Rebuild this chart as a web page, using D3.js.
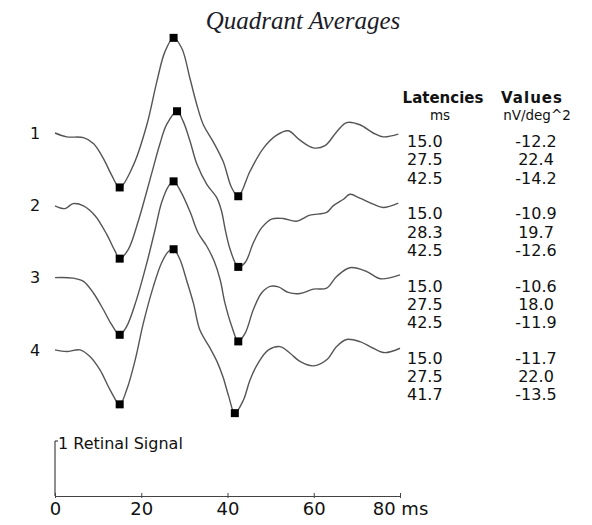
<!DOCTYPE html>
<html>
<head>
<meta charset="utf-8">
<script src="https://cdn.jsdelivr.net/npm/d3@7"></script>
<style>
    body { margin: 0; background: #fff; }
    text { font-family: "DejaVu Sans", Verdana, sans-serif; fill: #111; }
</style>
</head>
<body>
<div id="chart"></div>
<script>
// quadrant traces, [ms, signal] (1 = one retinal signal unit)
var trace1 = [[0,0.0],[2.7,-0.07],[6.6,-0.085],[8.9,-0.19],[11.2,-0.46],[13.1,-0.76],[15.0,-0.99],[18.2,-0.58],[21.3,0.15],[23.6,0.93],[25.5,1.48],[27.5,1.73],[29.4,1.54],[31.3,0.99],[32.9,0.51],[34.4,0.15],[36.7,-0.16],[39.0,-0.52],[41.0,-1.0],[42.5,-1.15],[45.2,-0.70],[48.3,-0.28],[51.4,-0.04],[54.1,0.04],[56.8,-0.13],[59.9,-0.27],[62.6,-0.23],[65.3,0.02],[67.6,0.19],[70.7,0.15],[73.8,0.0],[76.1,-0.07],[79.6,-0.02]];
var trace2 = [[0,-0.01],[2.3,-0.06],[4.2,0.03],[6.6,-0.01],[9.3,-0.19],[12.0,-0.53],[13.9,-0.83],[15.0,-0.97],[17.0,-0.80],[19.3,-0.29],[21.3,0.26],[22.8,0.69],[24.3,1.11],[25.9,1.47],[28.3,1.71],[29.7,1.53],[31.3,1.17],[32.9,0.75],[35.2,0.38],[37.5,0.14],[38.6,-0.10],[39.5,-0.45],[40.6,-0.80],[42.5,-1.12],[44.1,-1.04],[46.0,-0.68],[47.9,-0.41],[50.2,-0.25],[52.9,-0.24],[56.0,-0.29],[59.1,-0.18],[63.0,-0.13],[64.5,-0.01],[66.9,0.11],[68.4,0.20],[70.7,0.13],[73.8,0.02],[76.1,-0.04],[79.6,0.04]];
var trace3 = [[0,0.0],[4.2,-0.01],[6.6,-0.07],[8.9,-0.28],[11.2,-0.58],[13.1,-0.85],[15.0,-1.04],[16.6,-0.89],[18.9,-0.40],[21.3,0.27],[23.2,0.87],[24.7,1.36],[26.3,1.66],[27.5,1.75],[29.2,1.56],[31.3,1.20],[33.2,0.81],[35.2,0.57],[36.9,0.30],[38.3,-0.04],[39.4,-0.46],[41.0,-0.89],[42.5,-1.16],[44.1,-1.01],[46.0,-0.58],[47.9,-0.28],[49.9,-0.16],[51.8,-0.17],[54.1,-0.27],[56.8,-0.29],[59.9,-0.21],[63.0,-0.19],[65.3,0.02],[68.4,0.18],[72.3,0.11],[75.4,-0.02],[80,0.05]];
var trace4 = [[0,0.0],[2.7,-0.03],[5.8,0.0],[8.1,-0.12],[10.4,-0.36],[12.8,-0.73],[15.0,-0.99],[16.6,-0.73],[18.6,-0.18],[20.5,0.49],[22.8,1.15],[24.7,1.58],[26.3,1.79],[27.5,1.83],[29.0,1.64],[30.5,1.27],[32.1,0.85],[33.6,0.36],[35.9,0.04],[37.5,-0.20],[39.0,-0.50],[40.3,-0.85],[41.7,-1.15],[43.7,-0.91],[45.2,-0.55],[47.1,-0.24],[49.5,0.0],[52.2,0.06],[54.5,-0.06],[56.8,-0.21],[59.9,-0.29],[63.0,-0.18],[65.3,0.06],[67.6,0.19],[70.7,0.15],[73.8,0.03],[76.5,-0.05],[80,0.03]];

var quadrants = ["1", "2", "3", "4"];
var latencies = [[15.0, 27.5, 42.5], [15.0, 28.3, 42.5], [15.0, 27.5, 42.5], [15.0, 27.5, 41.7]];
var values = [[-12.2, 22.4, -14.2], [-10.9, 19.7, -12.6], [-10.6, 18.0, -11.9], [-11.7, 22.0, -13.5]];
var xTicks = [0, 20, 40, 60, 80];
var scaleBarValue = 1;

var traces = [trace1, trace2, trace3, trace4];

var width = 592, height = 525;
var traceTop = 133, traceGap = 72.3, axisY = 496;

var svg = d3.select("#chart").append("svg")
    .attr("width", width)
    .attr("height", height);

var x = d3.scaleLinear().domain([0, 80]).range([55, 400]);
var y = d3.scaleLinear().domain([0, 1]).range([0, -55]);

var line = d3.line()
    .x(function(d) { return x(d[0]); })
    .y(function(d) { return y(d[1]); })
    .curve(d3.curveCatmullRom.alpha(0.5));

svg.append("text")
    .attr("x", 303)
    .attr("y", 29)
    .attr("text-anchor", "middle")
    .style("font-family", "'Liberation Serif', serif")
    .style("font-style", "italic")
    .style("font-size", "25px")
    .style("fill", "#1c1c28")
    .text("Quadrant Averages");

// table headers
var head = svg.append("g").attr("class", "head");
head.append("text").attr("x", 443).attr("y", 103).attr("text-anchor", "middle")
    .style("font-size", "15px").style("font-weight", "bold").text("Latencies");
head.append("text").attr("x", 532).attr("y", 103).attr("text-anchor", "middle")
    .style("font-size", "15px").style("font-weight", "bold").style("letter-spacing", "1px").text("Values");
head.append("text").attr("x", 440).attr("y", 120).attr("text-anchor", "middle")
    .style("font-size", "13.5px").text("ms");
head.append("text").attr("x", 537).attr("y", 120).attr("text-anchor", "middle")
    .style("font-size", "13.5px").text("nV/deg^2");

var rows = svg.selectAll(".quad")
    .data(traces)
    .enter().append("g")
    .attr("class", "quad")
    .attr("transform", function(d, i) { return "translate(0," + (traceTop + i * traceGap) + ")"; });

rows.append("text")
    .attr("x", 35)
    .attr("y", 0)
    .attr("dy", "0.36em")
    .attr("text-anchor", "middle")
    .style("font-size", "16px")
    .text(function(d, i) { return quadrants[i]; });

rows.append("path")
    .attr("d", line)
    .style("fill", "none")
    .style("stroke", "#555")
    .style("stroke-width", 1.4);

rows.selectAll(".mark")
    .data(function(d, i) {
        return latencies[i].map(function(ms) {
            return d.find(function(q) { return q[0] === ms; });
        });
    })
    .enter().append("rect")
    .attr("class", "mark")
    .attr("x", function(d) { return x(d[0]) - 4; })
    .attr("y", function(d) { return y(d[1]) - 4; })
    .attr("width", 8)
    .attr("height", 8)
    .style("fill", "#000");

rows.selectAll(".lat")
    .data(function(d, i) { return latencies[i]; })
    .enter().append("text")
    .attr("class", "lat")
    .attr("x", 407)
    .attr("y", function(d, j) { return 14 + j * 18.3; })
    .style("font-size", "16px")
    .text(function(d) { return d.toFixed(1); });

rows.selectAll(".val")
    .data(function(d, i) { return values[i]; })
    .enter().append("text")
    .attr("class", "val")
    .attr("x", 536)
    .attr("y", function(d, j) { return 14 + j * 18.3; })
    .attr("text-anchor", "middle")
    .style("font-size", "16px")
    .text(function(d) { return d.toFixed(1); });

// time axis
var axis = svg.append("g")
    .attr("transform", "translate(0," + axisY + ")")
    .call(d3.axisBottom(x)
        .tickValues(xTicks)
        .tickSize(2)
        .tickSizeOuter(0)
        .tickPadding(4)
        .tickFormat(function(d) { return d === 80 ? "80 ms" : d; }));

axis.select(".domain").style("stroke", "#444").style("stroke-width", 1.2);
axis.selectAll(".tick line").attr("y1", -3).style("stroke", "#444");
axis.selectAll(".tick text")
    .style("font-family", "'DejaVu Sans', Verdana, sans-serif")
    .style("font-size", "18px")
    .style("fill", "#111");

// scale bar
var bar = svg.append("g").attr("transform", "translate(0," + axisY + ")");
bar.append("line")
    .attr("x1", x(0)).attr("x2", x(0))
    .attr("y1", 0).attr("y2", y(scaleBarValue))
    .style("stroke", "#444").style("stroke-width", 1.2);
bar.append("line")
    .attr("x1", x(0)).attr("x2", x(0) + 3)
    .attr("y1", y(scaleBarValue)).attr("y2", y(scaleBarValue))
    .style("stroke", "#444").style("stroke-width", 1.2);
bar.append("text")
    .attr("x", x(0) + 3)
    .attr("y", y(scaleBarValue) + 8)
    .style("font-size", "16px")
    .text(scaleBarValue + " Retinal Signal");
</script>
</body>
</html>
